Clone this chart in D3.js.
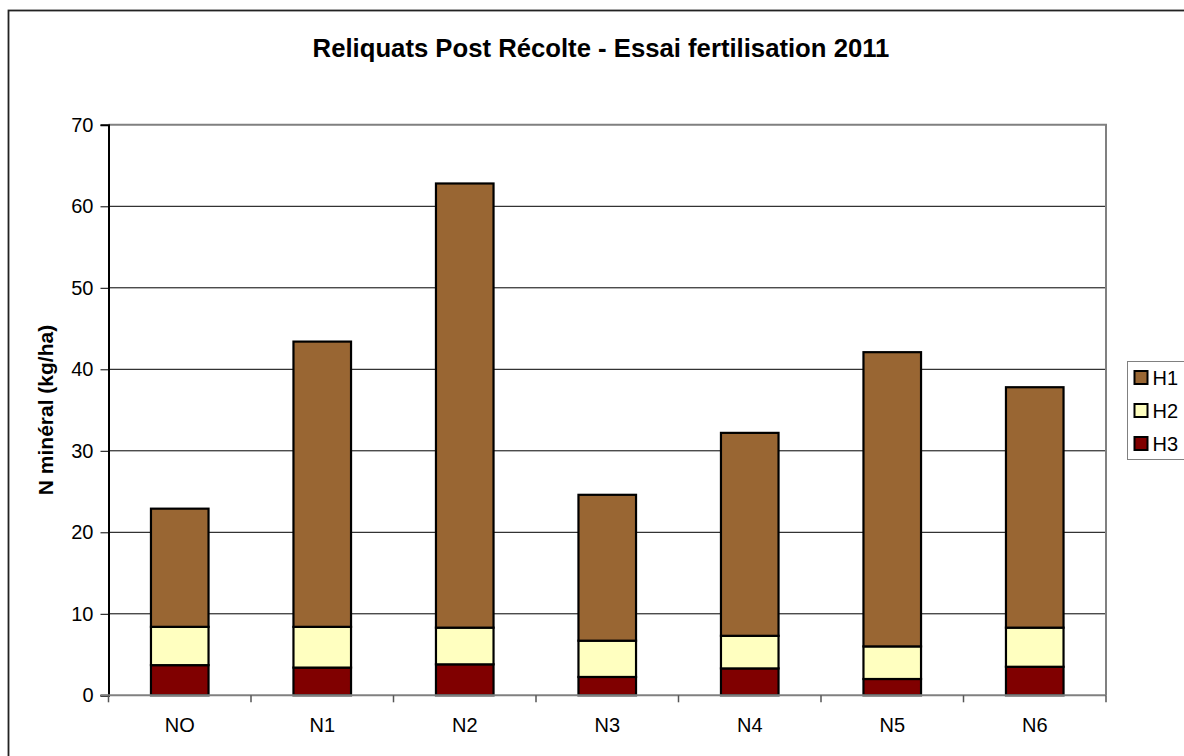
<!DOCTYPE html>
<html>
<head>
<meta charset="utf-8">
<script src="https://cdn.jsdelivr.net/npm/d3@7"></script>
<style>
  html, body { margin: 0; padding: 0; background: #fff; }
  svg { display: block; font-family: "Liberation Sans", Arial, sans-serif; }
</style>
</head>
<body>
<svg id="chart" width="1184" height="756"></svg>
<script>
// Post-harvest mineral nitrogen by horizon (kg/ha)
const categories = ["NO", "N1", "N2", "N3", "N4", "N5", "N6"];
const seriesNames = ["H1", "H2", "H3"];
const h3Values = [3.7, 3.4, 3.8, 2.25, 3.3, 2.0, 3.5];
const h2Values = [4.7, 5.0, 4.5, 4.45, 4.0, 4.0, 4.8];
const h1Values = [14.5, 35.0, 54.5, 17.9, 24.9, 36.1, 29.5];
const yTicks = [0, 10, 20, 30, 40, 50, 60, 70];
const titleText = "Reliquats Post Récolte - Essai fertilisation 2011";
const yLabel = "N minéral (kg/ha)";

const colors = { H1: "#996633", H2: "#FFFFC0", H3: "#800000" };

const rows = categories.map((c, i) => ({ cat: c, H3: h3Values[i], H2: h2Values[i], H1: h1Values[i] }));
// stacked from the bottom: H3, H2, H1
const stack = d3.stack().keys(["H3", "H2", "H1"])(rows);

const svg = d3.select("#chart");
const plot = { left: 108.5, right: 1106, top: 124.8, bottom: 695.3 };

// outer chart frame
svg.append("rect")
  .attr("x", 8.5).attr("y", 10.5).attr("width", 1200).attr("height", 800)
  .attr("fill", "#fff").attr("stroke", "#222").attr("stroke-width", 1.8);

const x = d3.scaleBand().domain(categories).range([plot.left, plot.right]).paddingInner(0).paddingOuter(0);
const y = d3.scaleLinear().domain([0, 70]).range([plot.bottom, plot.top]);

// gridlines
svg.append("g").selectAll("line")
  .data(yTicks.filter(t => t > 0 && t < 70))
  .join("line")
  .attr("x1", plot.left).attr("x2", plot.right)
  .attr("y1", d => y(d)).attr("y2", d => y(d))
  .attr("stroke", "#000").attr("stroke-width", 1);

// plot-area frame (top and right)
svg.append("path")
  .attr("d", `M${plot.left},${y(70)}H${plot.right}V${plot.bottom}`)
  .attr("fill", "none").attr("stroke", "#808080").attr("stroke-width", 2);

// bars
const barW = x.bandwidth() * 0.404;
svg.append("g").selectAll("g")
  .data(stack)
  .join("g")
  .attr("fill", d => colors[d.key])
  .selectAll("rect")
  .data(d => d)
  .join("rect")
  .attr("x", d => x(d.data.cat) + (x.bandwidth() - barW) / 2)
  .attr("width", barW)
  .attr("y", d => y(d[1]))
  .attr("height", d => y(d[0]) - y(d[1]))
  .attr("stroke", "#000").attr("stroke-width", 2.2);

// y axis
const yAxis = d3.axisLeft(y).tickValues(yTicks).tickSize(8).tickPadding(7);
const gy = svg.append("g").attr("transform", `translate(${plot.left},0)`).call(yAxis);
gy.select(".domain").attr("stroke", "#000").attr("stroke-width", 2);
gy.selectAll(".tick line").attr("stroke", "#000");
gy.selectAll(".tick text").attr("font-size", 20).attr("fill", "#000")
  .attr("font-family", "Liberation Sans, Arial, sans-serif");

// x axis with ticks between categories
const gx = svg.append("g").attr("transform", `translate(0,${plot.bottom})`);
gx.append("line").attr("x1", plot.left - 8).attr("x2", plot.right)
  .attr("stroke", "#808080").attr("stroke-width", 2);
const bounds = categories.map(c => x(c)).concat([plot.right]);
gx.selectAll("line.tk").data(bounds).join("line").attr("class", "tk")
  .attr("x1", d => d).attr("x2", d => d).attr("y1", 0).attr("y2", 7)
  .attr("stroke", "#555").attr("stroke-width", 1.5);
gx.selectAll("text").data(categories).join("text")
  .attr("x", d => x(d) + x.bandwidth() / 2).attr("y", 37)
  .attr("text-anchor", "middle").attr("font-size", 20).attr("fill", "#000")
  .text(d => d);

// title
svg.append("text").attr("x", 601).attr("y", 57)
  .attr("text-anchor", "middle").attr("font-size", 25.7).attr("font-weight", "bold")
  .text(titleText);

// y axis title
svg.append("text")
  .attr("transform", `translate(53,410) rotate(-90)`)
  .attr("text-anchor", "middle").attr("font-size", 21).attr("font-weight", "bold")
  .text(yLabel);

// legend
const lg = svg.append("g").attr("transform", "translate(1127,361)");
lg.append("rect").attr("x", 0.5).attr("y", 0.5).attr("width", 70).attr("height", 98)
  .attr("fill", "#fff").attr("stroke", "#808080").attr("stroke-width", 1);
seriesNames.forEach((s, i) => {
  const cy = 16.5 + i * 33;
  lg.append("rect").attr("x", 7.5).attr("y", cy - 6.5).attr("width", 13).attr("height", 13)
    .attr("fill", colors[s]).attr("stroke", "#000").attr("stroke-width", 2);
  lg.append("text").attr("x", 25.5).attr("y", cy + 7.5).attr("font-size", 20).text(s);
});
</script>
</body>
</html>
